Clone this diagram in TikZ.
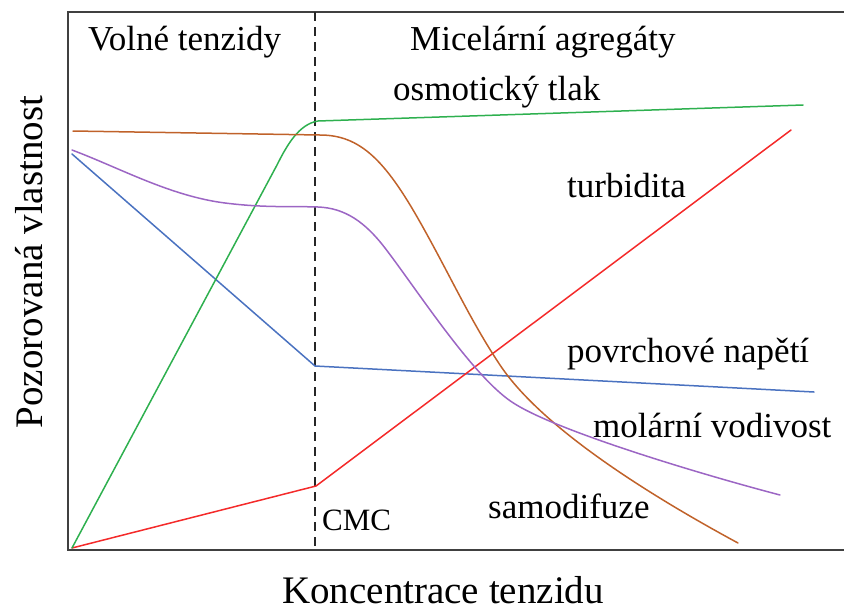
\documentclass[tikz,border=0pt]{standalone}
\usepackage{fontspec}
\setmainfont{Liberation Serif}
\definecolor{cgreen}{HTML}{2EB04F}
\definecolor{corange}{HTML}{C0622A}
\definecolor{cpurple}{HTML}{9C66C4}
\definecolor{cblue}{HTML}{4A72C0}
\definecolor{cred}{HTML}{F42A2A}
\definecolor{cframe}{HTML}{404040}
\tikzset{
  lbl/.style={inner sep=0pt, anchor=base west, font=\fontsize{35}{40}\selectfont},
  axlbl/.style={inner sep=0pt, font=\fontsize{39}{44}\selectfont},
  curve/.style={line width=1.5pt, line join=round, line cap=round},
  frameline/.style={line width=1.6pt, cframe},
  cmcline/.style={line width=1.5pt, black!85, dash pattern=on 9pt off 6pt}
}
\begin{document}
\begin{tikzpicture}[x=1pt, y=-1pt]
\useasboundingbox (0,0) rectangle (844,614);
% frame
\coordinate (tl) at (68,12);
\coordinate (bl) at (68,550);
\coordinate (tr) at (844,12);
\coordinate (br) at (844,550);
\draw[frameline] (tr) -- (tl) -- (bl) -- (br);
% CMC dashed line
\coordinate (cmctop) at (315,12);
\coordinate (cmcbot) at (315,550);
\draw[cmcline] (cmctop) -- (cmcbot);
% blue: povrchove napeti
\coordinate (b0) at (72,154);
\coordinate (b1) at (315,366);
\coordinate (b2) at (814,392);
\draw[curve, cblue] (b0) -- (b1) -- (b2);
% red: turbidita
\coordinate (r0) at (72,548);
\coordinate (r1) at (316,486);
\coordinate (r2) at (791,130);
\draw[curve, cred] (r0) -- (r1) -- (r2);
% green: osmoticky tlak
\coordinate (g0) at (72,548);
\coordinate (g1) at (277,165);
\coordinate (g2) at (318,121);
\coordinate (g3) at (803,105);
\draw[curve, cgreen] (g0) -- (g1) .. controls (287,145) and (299,124) .. (g2) -- (g3);
% orange: samodifuze
\coordinate (o0) at (73,131);
\coordinate (o1) at (320,135);
\coordinate (o2) at (420,222);
\coordinate (o3) at (500,365);
\coordinate (o4) at (738,543);
\draw[curve, corange] (o0) -- (o1)
  .. controls (360,135) and (385,160) .. (o2)
  .. controls (450,275) and (470,320) .. (o3)
  .. controls (540,425) and (640,490) .. (o4);
% purple: molarni vodivost
\coordinate (p0) at (72,150);
\coordinate (p1) at (225,203);
\coordinate (p2) at (318,207);
\coordinate (p3) at (385,248);
\coordinate (p4) at (515,404);
\coordinate (p5) at (780,495);
\draw[curve, cpurple] (p0)
  .. controls (120,168) and (170,196) .. (p1)
  .. controls (265,208) and (290,206) .. (p2)
  .. controls (345,208) and (365,222) .. (p3)
  .. controls (418,291) and (475,380) .. (p4)
  .. controls (560,432) and (700,474) .. (p5);
% labels
\node[lbl] (volne) at (88,50) {Volné tenzidy};
\node[lbl] (micel) at (410,50) {Micelární agregáty};
\node[lbl] (osmo) at (393,100) {osmotický tlak};
\node[lbl] (turb) at (567,197) {turbidita};
\node[lbl] (povr) at (567,362) {povrchové napětí};
\node[lbl] (molar) at (593,437) {molární vodivost};
\node[lbl] (samo) at (488,518) {samodifuze};
\node[lbl, font=\fontsize{31}{36}\selectfont] (cmc) at (322,530) {CMC};
\node[axlbl, anchor=base] (xlab) at (443,603) {Koncentrace tenzidu};
\node[axlbl, anchor=base, rotate=90] (ylab) at (42,262) {Pozorovaná vlastnost};
\end{tikzpicture}
\end{document}
